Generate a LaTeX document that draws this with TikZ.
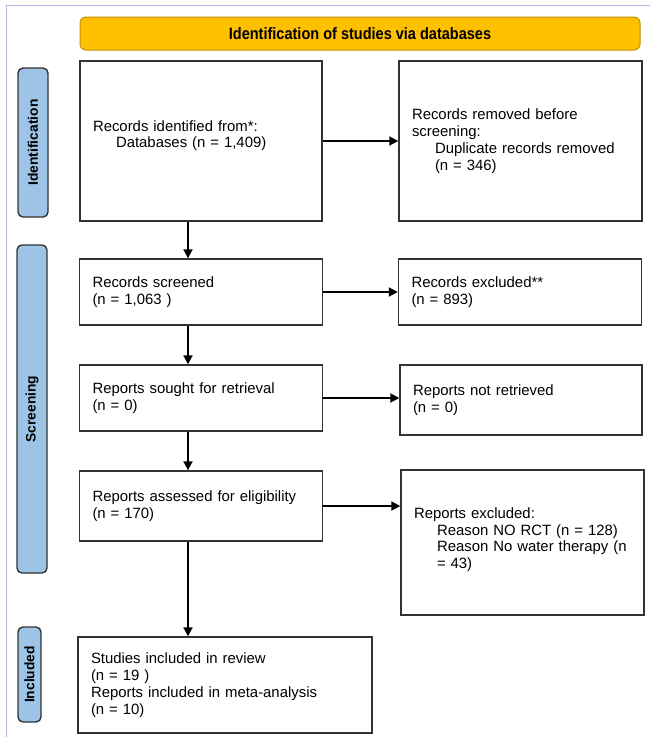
\documentclass[tikz,border=0pt]{standalone}
\usepackage{fontspec}
\setmainfont{Liberation Sans}
\newfontfamily\headfont[FakeStretch=0.88]{Liberation Sans}
\usetikzlibrary{arrows.meta, positioning}

\definecolor{boxline}{HTML}{333333}
\definecolor{headfill}{HTML}{FFC000}
\definecolor{headline}{HTML}{BF9000}
\definecolor{phasefill}{HTML}{9DC3E6}
\definecolor{framecol}{HTML}{B4B4E6}

\newcommand{\boxfont}{\fontsize{14.9}{16.9}\selectfont}
\newcommand{\ind}{\hspace*{23pt}}

\tikzset{
    box/.style 2 args={draw=boxline, line width=1.4pt, fill=white, align=left,
        inner xsep=13pt, inner ysep=0pt, text width=#1pt-26pt, minimum height=#2pt,
        font=\boxfont},
    phase/.style 2 args={draw=boxline, line width=1.4pt, fill=phasefill,
        rounded corners=5pt, rotate=90, inner sep=0pt,
        minimum width=#1pt, minimum height=#2pt,
        font=\bfseries\fontsize{13.8}{15}\selectfont},
    flow/.style={-{Triangle[length=9pt,width=9pt]}, line width=1.9pt},
}

\begin{document}
\begin{tikzpicture}[
    x=1pt,
    y=-1pt,
    on grid,
]
    \useasboundingbox (0,0) rectangle (649,737);
    \draw[framecol, line width=1pt] (6,5) rectangle (700,800);

    % header
    \node[draw=headline, line width=1pt, fill=headfill, rounded corners=6pt,
          minimum width=560pt, minimum height=33pt,
          font=\headfont\bfseries\fontsize{16.5}{18}\selectfont]
          (head) at (360,33.5) {Identification of studies via databases};

    % phases
    \node[phase={149}{30}] (ident) at (33,142.5) {Identification};
    \node[phase={328}{30}] (screen) at (32,409) {Screening};
    \node[phase={95}{23}]  (incl) at (29.5,674.5) {Included};

    % left column
    \node[box={242}{160}] (ident1) at (201,141)
        {Records identified from*:\\ \ind Databases (n = 1,409)\\[-3pt]\mbox{}};
    \node[box={243}{66}, below=151pt of ident1] (screened)
        {Records screened\\(n = 1,063 )};
    \node[box={243}{66}, below=106pt of screened] (sought)
        {Reports sought for retrieval\\(n = 0)};
    \node[box={243}{70}, below=108pt of sought] (assessed)
        {Reports assessed for eligibility\\(n = 170)};
    \node[box={294}{96}] (included) at (225,685)
        {Studies included in review\\(n = 19 )\\Reports included in meta-analysis\\(n = 10)};

    % right column
    \node[box={243}{160}, right=319.5pt of ident1] (removed)
        {Records removed before\\screening:\\ \ind Duplicate records removed\\ \ind(n = 346)};
    \node[box={243}{66}, right=319pt of screened] (excl)
        {Records excluded**\\(n = 893)};
    \node[box={242}{70}] (notret) at (521,400)
        {Reports not retrieved\\(n = 0)};
    \node[box={243}{145}] (repexcl) at (522.5,542.5)
        {Reports excluded:\\ \ind Reason NO RCT (n = 128)\\ \ind Reason No water therapy (n\\ \ind = 43)\\[-8pt]\mbox{}};

    \coordinate (spine) at (188,0);

    \draw[flow] (ident1) -- (removed);
    \draw[flow] (screened) -- (excl);
    \draw[flow] (sought.east) -- (sought.east -| notret.west);
    \draw[flow] (assessed.east) -- (assessed.east -| repexcl.west);

    \draw[flow] (ident1.south -| spine) -- (screened.north -| spine);
    \draw[flow] (screened.south -| spine) -- (sought.north -| spine);
    \draw[flow] (sought.south -| spine) -- (assessed.north -| spine);
    \draw[flow] (assessed.south -| spine) -- (included.north -| spine);
\end{tikzpicture}
\end{document}
